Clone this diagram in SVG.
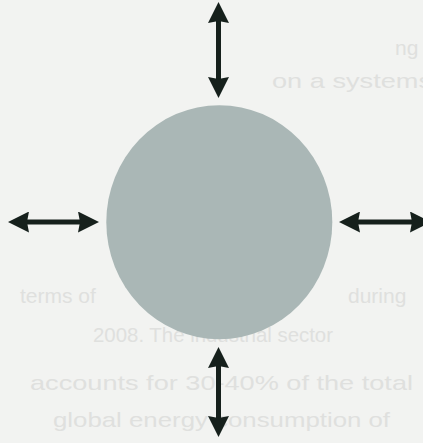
<svg xmlns="http://www.w3.org/2000/svg" width="423" height="443" viewBox="0 0 423 443">
  <style>
    .ghost { font-family: "Liberation Sans", Arial, sans-serif; font-size: 21px; fill: #dfe0de; }
    .arrow { stroke: #16201c; stroke-width: 5; fill: none; marker-start: url(#head); marker-end: url(#head); }
  </style>
  <defs>
    <marker id="head" viewBox="0 0 21 21" refX="10" refY="10.5" markerWidth="21" markerHeight="21" markerUnits="userSpaceOnUse" orient="auto-start-reverse">
      <path d="M0,0 L21,10.5 L0,21 L2,10.5 Z" fill="#16201c"/>
    </marker>
  </defs>
  <rect width="423" height="443" fill="#f2f3f1"/>
  <g id="show-through">
    <text class="ghost" x="395" y="55">ng</text>
    <text class="ghost" x="272" y="88" textLength="160" lengthAdjust="spacingAndGlyphs">on a systems</text>
    <text class="ghost" x="20" y="303">terms of</text>
    <text class="ghost" x="348" y="303">during</text>
    <text class="ghost" x="93" y="342" textLength="240" lengthAdjust="spacingAndGlyphs">2008. The industrial sector</text>
    <text class="ghost" x="30" y="390" textLength="383" lengthAdjust="spacingAndGlyphs">accounts for 30-40% of the total</text>
    <text class="ghost" x="53" y="427" textLength="337" lengthAdjust="spacingAndGlyphs">global energy consumption of</text>
  </g>
  <g id="hub">
    <ellipse cx="219.3" cy="222.2" rx="113" ry="117" fill="#aab7b6"/>
  </g>
  <g id="connectors">
    <line class="arrow" x1="218.5" y1="13" x2="218.5" y2="87"/>
    <line class="arrow" x1="218.5" y1="358" x2="218.5" y2="426"/>
    <line class="arrow" x1="19" y1="222" x2="88" y2="222"/>
    <line class="arrow" x1="350" y1="222" x2="420" y2="222"/>
  </g>
</svg>
